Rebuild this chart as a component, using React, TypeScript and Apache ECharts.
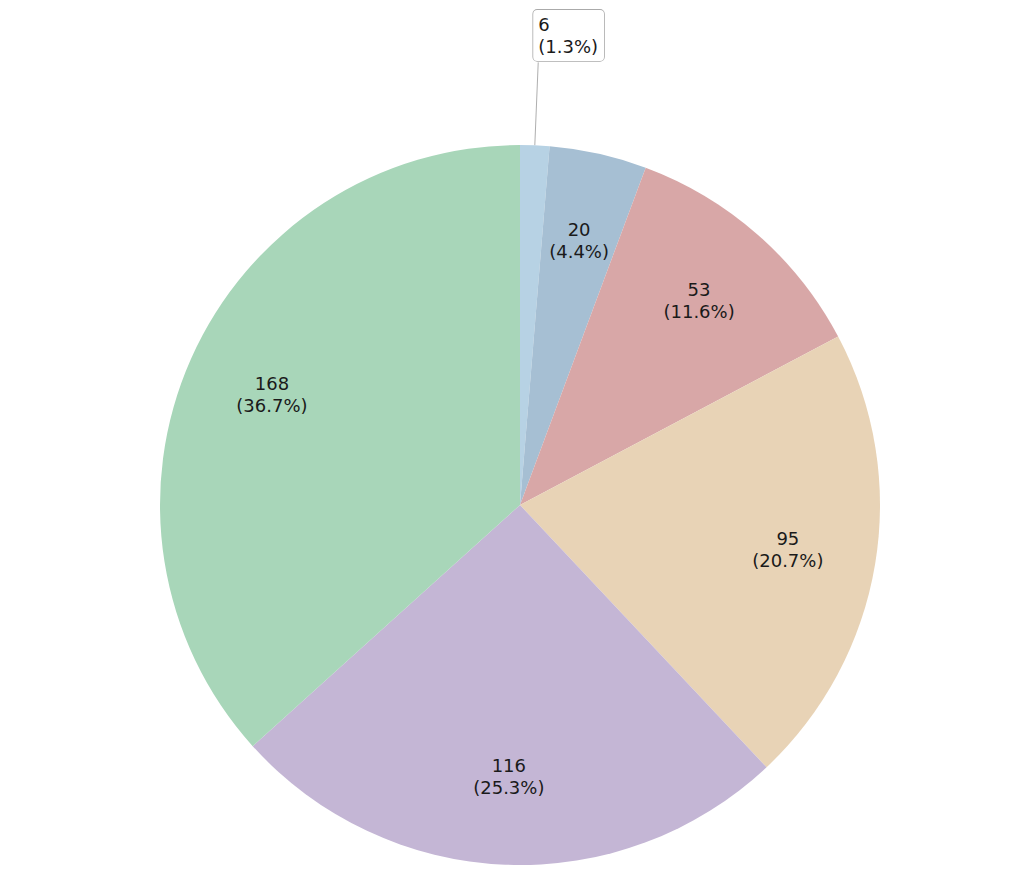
import { useEffect, useRef } from "react";
import * as echarts from "echarts";

const names = ["A", "B", "C", "D", "E", "F"];
const values = [6, 20, 53, 95, 116, 168];
const colors = ["#b7d2e4", "#a6bfd3", "#d8a7a7", "#e8d3b6", "#c4b6d5", "#a8d6b9"];

const FONT = "DejaVu Sans";

export default function App() {
  const chartRef = useRef<HTMLDivElement>(null);

  useEffect(() => {
    document.body.style.margin = "0";
    if (!chartRef.current) return;
    const chart = echarts.init(chartRef.current, null, { renderer: "svg" });

    const total = values.reduce((a, b) => a + b, 0);
    const fmt = (v: number) => `${v}\n(${((v / total) * 100).toFixed(1)}%)`;

    const data = names.map((n, i) => ({
      name: n,
      value: values[i],
      itemStyle: { color: colors[i] },
    }));

    chart.setOption({
      animation: false,
      series: [
        {
          // visible slices; the small first one carries its own outside label
          type: "pie",
          center: [520, 505],
          radius: [0, 360],
          startAngle: 90,
          clockwise: true,
          silent: true,
          data: data.map((d, i) => ({
            ...d,
            label:
              i === 0
                ? {
                    show: true,
                    position: "outside",
                    formatter: (p: any) => fmt(p.value),
                    color: "#1a1a1a",
                    fontFamily: FONT,
                    fontSize: 18,
                    lineHeight: 22,
                    align: "left",
                    backgroundColor: "#fff",
                    borderColor: "#aaa",
                    borderWidth: 0.8,
                    borderRadius: 4,
                    padding: [4, 6, 3, 5],
                  }
                : { show: false },
            labelLine:
              i === 0
                ? { show: true, length: 83, length2: 0, lineStyle: { color: "#999", width: 0.8 } }
                : { show: false },
          })),
          labelLayout: (p: any) => (p.dataIndex === 0 ? { dx: -10, dy: -27 } : {}),
        },
        {
          // transparent ring only to place the inner labels at ~3/4 of the radius
          type: "pie",
          center: [520, 505],
          radius: [177, 360],
          startAngle: 90,
          clockwise: true,
          silent: true,
          itemStyle: { color: "rgba(0,0,0,0)" },
          data: data.map((d, i) => ({
            name: d.name,
            value: d.value,
            label: { show: i !== 0 },
          })),
          label: {
            position: "inside",
            formatter: (p: any) => fmt(p.value),
            color: "#1a1a1a",
            fontFamily: FONT,
            fontSize: 18,
            lineHeight: 22,
            align: "center",
          },
          labelLine: { show: false },
        },
      ],
    });

    return () => chart.dispose();
  }, []);

  return <div ref={chartRef} style={{ width: 1010, height: 892 }} />;
}
